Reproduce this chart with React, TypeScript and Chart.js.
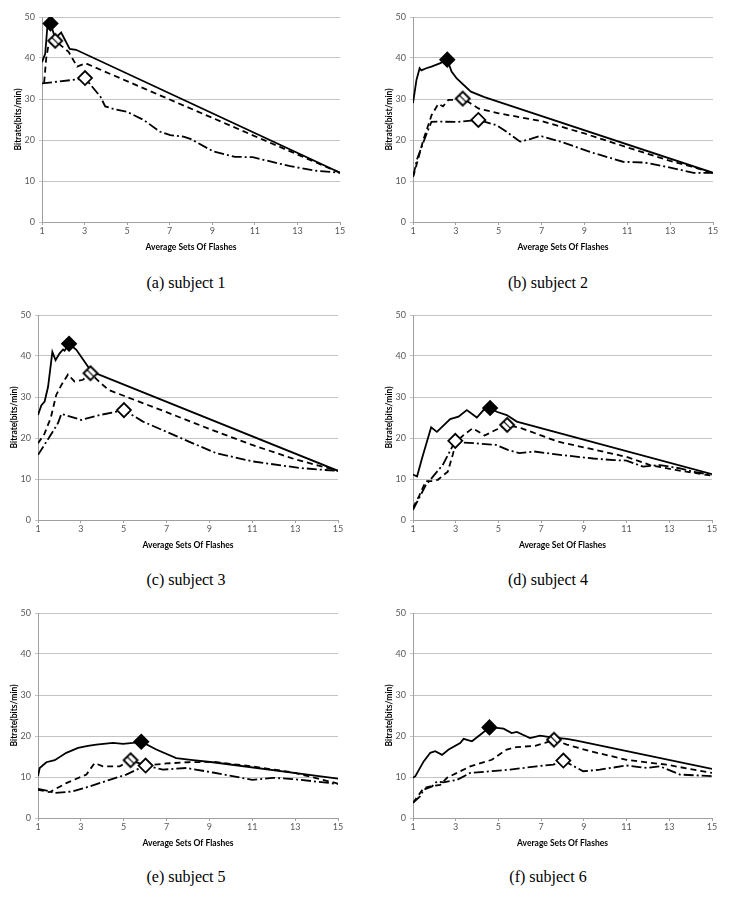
import React, { useEffect, useRef } from 'react';
import { Chart, registerables } from 'chart.js';
Chart.register(...registerables);

type Pt = [number, number];

// ---------- data ----------
const xTickValues = [1, 3, 5, 7, 9, 11, 13, 15];
const yMin = 0;
const yMax = 50;
const yStep = 10;

const s1Solid: Pt[] = [[1, 39], [1.15, 41], [1.25, 47.5], [1.4, 48.4], [1.62, 44.8], [1.9, 46.2], [2.3, 42.2], [2.6, 42], [15, 12]];
const s1Dashed: Pt[] = [[1.1, 34], [1.2, 40], [1.3, 43], [1.62, 44.2], [2.25, 41.5], [2.65, 37.9], [3.05, 38.7], [15, 12]];
const s1DashDot: Pt[] = [[1, 33.8], [2.7, 34.8], [3.02, 35.1], [3.74, 30.6], [3.97, 28.2], [4.35, 27.6], [4.99, 26.9], [5.77, 24.9], [6.55, 22], [7.03, 21.2], [7.65, 20.8], [8, 20.2], [9.05, 17.2], [10.07, 15.9], [10.9, 15.8], [12.66, 13.6], [13.9, 12.5], [15, 12]];

const s2Solid: Pt[] = [[1, 29], [1.16, 34.6], [1.31, 37.5], [1.39, 37], [1.62, 37.5], [1.86, 37.9], [2.25, 38.7], [2.6, 39.6], [2.8, 36.7], [3.04, 35], [3.7, 31.8], [4.3, 30.5], [5, 29.3], [15, 12]];
const s2Dashed: Pt[] = [[1, 11], [1.1, 12.7], [1.48, 20], [1.87, 26.1], [2.18, 28.8], [2.4, 28.2], [2.65, 29.8], [2.96, 29.8], [3.32, 30.1], [3.66, 29], [4.05, 27.7], [5, 26.5], [7, 24.6], [9, 21.6], [11, 18.2], [13, 14.9], [14, 13.5], [15, 12]];
const s2DashDot: Pt[] = [[1, 11], [1.2, 15.5], [1.64, 21.6], [1.86, 24.4], [2.1, 24.5], [3.04, 24.4], [4.05, 24.9], [4.9, 23.6], [5.37, 22], [6, 19.6], [6.5, 20.3], [6.94, 21], [7.88, 19.6], [9.44, 16.8], [10.8, 14.7], [11.8, 14.5], [12.9, 13.4], [14.1, 12], [15, 12]];

const s3Solid: Pt[] = [[1, 25.6], [1.16, 28], [1.31, 28.9], [1.47, 32.5], [1.67, 41], [1.82, 39], [2, 40.6], [2.17, 41.6], [2.24, 41.3], [2.45, 43], [2.79, 41.5], [3.49, 36.2], [3.88, 35.4], [15, 12]];
const s3Dashed: Pt[] = [[1, 18.7], [1.3, 21], [1.6, 25], [1.85, 30.5], [2.1, 33], [2.4, 35.5], [2.7, 33.8], [3.1, 34.2], [3.45, 35.8], [3.9, 33.5], [4.3, 31.7], [5, 30.3], [7, 26.3], [9, 22.2], [11, 18.3], [13, 14.8], [15, 12]];
const s3DashDot: Pt[] = [[1, 15.9], [1.54, 20.3], [1.93, 23.6], [2.09, 25.9], [3.02, 24.4], [3.88, 25.6], [5.01, 26.8], [5.9, 24], [7, 21.5], [8.23, 18.7], [9.32, 16.3], [11, 14.3], [13.2, 12.7], [14.4, 12.2], [15, 12]];

const s4Solid: Pt[] = [[1, 11.1], [1.19, 10.6], [1.42, 15], [1.85, 22.6], [2.12, 21.5], [2.74, 24.6], [3.13, 25.2], [3.52, 26.8], [3.99, 25], [4.3, 26.8], [4.61, 27.3], [4.92, 26.4], [5.39, 25.6], [5.86, 24], [15, 11.2]];
const s4Dashed: Pt[] = [[1, 3], [1.3, 6], [1.6, 9.5], [1.93, 9.5], [2.16, 9.8], [2.63, 11.8], [2.86, 15.9], [3.02, 19.1], [3.41, 20.9], [3.8, 22.4], [4.35, 20.6], [4.89, 22], [5.41, 23.2], [6.06, 22.4], [7.8, 19.1], [9.44, 17.2], [11, 15.4], [12.1, 13.4], [13.3, 12.2], [15, 10.8]];
const s4DashDot: Pt[] = [[1, 2.5], [1.3, 5.5], [1.6, 8.5], [2, 11], [2.4, 13.5], [2.7, 16.5], [2.98, 19.3], [3.34, 18.9], [3.96, 18.7], [4.89, 18.3], [5.44, 17.1], [5.98, 16.3], [6.68, 16.7], [7.7, 16], [9.44, 15], [10.4, 14.6], [11, 14.5], [11.78, 13], [12.56, 13.4], [13.5, 12.6], [14.1, 11.8], [15, 11]];

const s5Solid: Pt[] = [[1, 10.2], [1.08, 12.2], [1.39, 13.6], [1.78, 14.1], [2.32, 15.9], [2.87, 17.1], [3.33, 17.6], [3.72, 17.9], [4.5, 18.3], [4.97, 18.1], [5.43, 18.3], [5.82, 18.6], [6.52, 16.7], [7.45, 14.6], [8.23, 14.1], [9.16, 13.6], [15, 9.6]];
const s5Dashed: Pt[] = [[1, 6.9], [1.54, 6.3], [2.32, 8.5], [3.26, 10.6], [3.64, 13.4], [4.03, 12.6], [4.81, 12.6], [5.32, 14.1], [6, 12.8], [7, 13.3], [8, 13.6], [9.16, 13.7], [11, 12.6], [12.9, 11.1], [15, 8.4]];
const s5DashDot: Pt[] = [[1, 7.1], [1.54, 6.5], [1.78, 6.1], [2.63, 6.5], [3.41, 7.7], [4.34, 9.3], [5.12, 10.6], [6.02, 12.8], [6.83, 11.8], [7.92, 12.2], [9.16, 11.1], [11, 9.3], [11.96, 9.8], [12.9, 9.5], [15, 8.3]];

const s6Solid: Pt[] = [[1, 9.8], [1.11, 10.2], [1.5, 13.8], [1.81, 15.9], [2.04, 16.3], [2.36, 15.4], [2.67, 16.7], [3.21, 18.3], [3.37, 19.3], [3.76, 18.7], [4.15, 20.3], [4.58, 22.1], [4.92, 22], [5.24, 21.8], [5.62, 20.7], [5.86, 21], [6.48, 19.5], [6.95, 20.1], [7.41, 19.7], [8.2, 19.3], [8.66, 18.9], [15, 12]];
const s6Dashed: Pt[] = [[1, 3.7], [1.5, 7.3], [1.81, 7.7], [2.28, 8.1], [2.59, 9.8], [3.21, 11.4], [3.68, 12.6], [4.69, 14.2], [5.39, 16.7], [5.86, 17.3], [6.72, 17.6], [7.18, 18.3], [7.6, 19.1], [8.2, 17.9], [9.29, 16.3], [11, 14.2], [12.87, 13], [15, 11]];
const s6DashDot: Pt[] = [[1, 3.7], [1.34, 5.3], [1.5, 6.9], [1.89, 7.7], [2.12, 8.9], [2.43, 8.7], [3.06, 9.3], [3.68, 11], [4.61, 11.4], [5.55, 11.8], [6.79, 12.6], [7.57, 13], [8.04, 14], [8.97, 11.4], [9.75, 11.8], [11, 12.8], [11.93, 12.2], [12.56, 12.6], [13.5, 10.6], [15, 10.2]];

const captions = ['(a) subject 1', '(b) subject 2', '(c) subject 3', '(d) subject 4', '(e) subject 5', '(f) subject 6'];
const xTitles = ['Average Sets Of Flashes', 'Average Sets Of Flashes', 'Average Sets Of Flashes', 'Average Set Of Flashes', 'Average Sets Of Flashes', 'Average Sets Of Flashes'];
const yTitles = ['Bitrate(bits/min)', 'Bitrate(bist/min)', 'Bitrate(bits/min)', 'Bitrate(bits/min)', 'Bitrate(bits/min)', 'Bitrate(bits/min)'];
const seriesSets: Pt[][][] = [
  [s1Solid, s1Dashed, s1DashDot],
  [s2Solid, s2Dashed, s2DashDot],
  [s3Solid, s3Dashed, s3DashDot],
  [s4Solid, s4Dashed, s4DashDot],
  [s5Solid, s5Dashed, s5DashDot],
  [s6Solid, s6Dashed, s6DashDot],
];

// ---------- layout (plot area boxes in page px) ----------
const plotBoxes = [
  { l: 42, r: 340, t: 17, b: 222 },
  { l: 413, r: 713, t: 17, b: 222 },
  { l: 38, r: 338, t: 315, b: 520 },
  { l: 413, r: 712, t: 315, b: 520 },
  { l: 38, r: 338, t: 613, b: 818 },
  { l: 413, r: 712, t: 613, b: 818 },
];
const captionCenters = [
  { x: 186, y: 283 },
  { x: 548, y: 283 },
  { x: 186, y: 580 },
  { x: 548, y: 580 },
  { x: 186, y: 877 },
  { x: 548, y: 877 },
];

const Y_AXIS_W = 34;
const X_AXIS_H = 34;
const PAD_L = 4;
const PAD_T = 10;
const PAD_R = 14;
const FONT = 'Lato, "Open Sans", sans-serif';

function argMax(pts: Pt[]): Pt {
  let best = pts[0];
  for (const p of pts) if (p[1] > best[1]) best = p;
  return best;
}

function makeHatched(r: number): HTMLCanvasElement {
  const size = Math.ceil(2 * r + 4);
  const c = document.createElement('canvas');
  c.width = size;
  c.height = size;
  const ctx = c.getContext('2d')!;
  const cx = size / 2;
  const path = () => {
    ctx.beginPath();
    ctx.moveTo(cx - r, cx);
    ctx.lineTo(cx, cx - r);
    ctx.lineTo(cx + r, cx);
    ctx.lineTo(cx, cx + r);
    ctx.closePath();
  };
  path();
  ctx.fillStyle = '#ffffff';
  ctx.fill();
  ctx.save();
  path();
  ctx.clip();
  ctx.strokeStyle = '#000';
  ctx.lineWidth = 1.2;
  for (let k = -2; k <= 2; k++) {
    const o = k * 3.4;
    ctx.beginPath();
    ctx.moveTo(cx - r + o, cx - r - o);
    ctx.lineTo(cx + r + o, cx + r - o);
    ctx.stroke();
  }
  ctx.restore();
  path();
  ctx.lineWidth = 1.8;
  ctx.strokeStyle = '#000';
  ctx.stroke();
  return c;
}

function Panel({ idx }: { idx: number }) {
  const ref = useRef<HTMLCanvasElement | null>(null);
  const box = plotBoxes[idx];
  const left = box.l - Y_AXIS_W - PAD_L;
  const top = box.t - PAD_T;
  const width = box.r - box.l + Y_AXIS_W + PAD_L + PAD_R;
  const height = box.b - box.t + PAD_T + X_AXIS_H;

  useEffect(() => {
    if (!ref.current) return;
    const [solid, dashed, dashdot] = seriesSets[idx];
    const toXY = (pts: Pt[]) => pts.map(([x, y]) => ({ x, y }));
    const lineDs = (pts: Pt[], dash: number[]) => ({
      data: toXY(pts),
      borderColor: '#000',
      borderWidth: 1.8,
      borderDash: dash,
      borderCapStyle: 'butt' as const,
      pointRadius: 0,
      tension: 0,
      fill: false,
      order: 1,
    });
    const mk = (pts: Pt[], style: any, bg: string) => ({
      data: toXY([argMax(pts)]),
      showLine: false,
      pointStyle: style,
      pointRadius: 7,
      pointBackgroundColor: bg,
      pointBorderColor: '#000',
      pointBorderWidth: 1.8,
      order: 0,
    });
    const hatched = makeHatched(7);
    const chart = new Chart(ref.current, {
      type: 'line',
      data: {
        datasets: [
          lineDs(solid, []),
          lineDs(dashed, [6, 4]),
          lineDs(dashdot, [10, 3, 2, 3]),
          mk(solid, 'rectRot', '#000'),
          mk(dashed, hatched, '#fff'),
          mk(dashdot, 'rectRot', '#fff'),
        ] as any,
      },
      options: {
        responsive: false,
        animation: false,
        events: [],
        layout: { padding: { left: PAD_L, top: PAD_T, right: PAD_R, bottom: 0 } },
        plugins: { legend: { display: false }, tooltip: { enabled: false } },
        scales: {
          x: {
            type: 'linear',
            min: xTickValues[0],
            max: xTickValues[xTickValues.length - 1],
            afterBuildTicks: (s: any) => {
              s.ticks = xTickValues.map((v) => ({ value: v }));
            },
            afterFit: (s: any) => {
              s.height = X_AXIS_H;
            },
            grid: { drawOnChartArea: false, drawTicks: true, tickLength: 3, color: '#a0a0a0' },
            border: { color: '#a0a0a0', width: 1 },
            ticks: { padding: 1, color: '#595959', font: { family: FONT, size: 9 }, maxRotation: 0, autoSkip: false },
            title: {
              display: true,
              text: xTitles[idx],
              color: '#000',
              font: { family: FONT, size: 8.5, weight: 'bold' },
              padding: { top: 0, bottom: 4 },
            },
          },
          y: {
            min: yMin,
            max: yMax,
            afterFit: (s: any) => {
              s.width = Y_AXIS_W;
            },
            ticks: { stepSize: yStep, padding: 4, color: '#595959', font: { family: FONT, size: 9 } },
            grid: { color: '#c4c4c4', lineWidth: 1, drawTicks: true, tickLength: 3 },
            border: { color: '#a0a0a0', width: 1 },
            title: {
              display: true,
              text: yTitles[idx],
              color: '#000',
              font: { family: FONT, size: 8.5, weight: 'bold' },
              padding: { top: 5, bottom: 0 },
            },
          },
        },
      } as any,
    });
    return () => chart.destroy();
  }, [idx]);

  return (
    <canvas
      ref={ref}
      width={width}
      height={height}
      style={{ position: 'absolute', left, top, width, height }}
    />
  );
}

export default function App() {
  return (
    <div style={{ position: 'absolute', left: 0, top: 0, width: 729, height: 897, background: '#fff', overflow: 'hidden' }}>
      {plotBoxes.map((_, i) => (
        <Panel key={i} idx={i} />
      ))}
      {captions.map((c, i) => (
        <div
          key={'c' + i}
          style={{
            position: 'absolute',
            left: captionCenters[i].x - 100,
            top: captionCenters[i].y - 10,
            width: 200,
            height: 20,
            lineHeight: '20px',
            textAlign: 'center',
            fontFamily: '"Liberation Serif", "DejaVu Serif", serif',
            fontSize: 16,
            color: '#000',
          }}
        >
          {c}
        </div>
      ))}
    </div>
  );
}
